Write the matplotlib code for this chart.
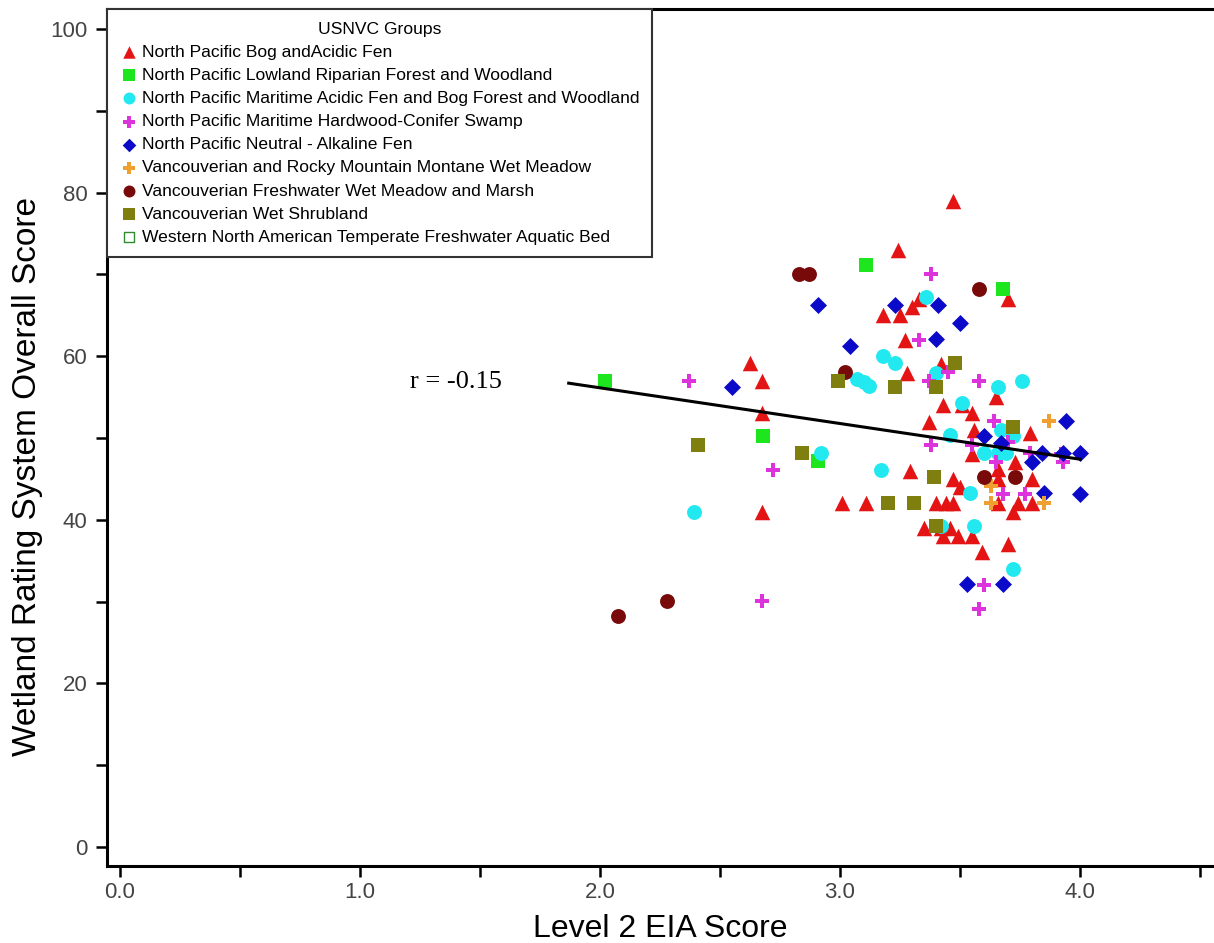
import matplotlib
matplotlib.use("Agg")
from matplotlib import pyplot as plt
from matplotlib.ticker import MultipleLocator

# Level 2 EIA score (x) and wetland rating system overall score (y), by USNVC group
bog_x = [2.625, 2.675, 2.675, 2.675, 3.01, 3.11, 3.24, 3.47, 3.18, 3.25, 3.30, 3.33,
         3.27, 3.28, 3.42, 3.43, 3.51, 3.55, 3.37, 3.56, 3.55, 3.29, 3.47, 3.50,
         3.40, 3.44, 3.47, 3.35, 3.42, 3.46, 3.43, 3.49, 3.55, 3.59, 3.70, 3.79,
         3.73, 3.66, 3.66, 3.80, 3.66, 3.74, 3.80, 3.72, 3.70, 3.65]
bog_y = [59.2, 57, 53, 41, 42, 42, 73, 79, 65, 65, 66, 67,
         62, 58, 59, 54, 54, 53, 52, 51, 48, 46, 45, 44,
         42, 42, 42, 39, 39, 39, 38, 38, 38, 36, 67, 50.6,
         47, 46.2, 45, 45, 42, 42, 42, 41, 37, 55]

riparian_x = [2.02, 2.68, 2.91, 3.11, 3.68]
riparian_y = [57, 50.2, 47.2, 71.1, 68.2]

bogforest_x = [2.39, 2.92, 3.17, 3.18, 3.23, 3.07, 3.10, 3.12, 3.36, 3.40, 3.51, 3.66,
               3.76, 3.46, 3.67, 3.72, 3.60, 3.66, 3.69, 3.54, 3.42, 3.56, 3.72]
bogforest_y = [41, 48.2, 46.1, 60, 59.2, 57.2, 56.9, 56.3, 67.2, 58, 54.3, 56.2,
               57, 50.4, 51, 50.2, 48.1, 48.1, 48.1, 43.3, 39.2, 39.2, 34]

swamp_x = [2.37, 2.72, 2.675, 3.38, 3.33, 3.45, 3.37, 3.58, 3.64, 3.38, 3.55, 3.79,
           3.93, 3.92, 3.70, 3.65, 3.68, 3.77, 3.60, 3.58]
swamp_y = [57, 46.1, 30.1, 70.1, 62, 58.1, 57, 57, 52.1, 49.1, 49.2, 48.2,
           47.1, 48, 49.5, 47.1, 43.1, 43.1, 32, 29.1]

alkaline_x = [2.55, 2.91, 3.04, 3.23, 3.41, 3.50, 3.40, 3.94, 3.60, 3.67, 3.80, 3.84,
              3.93, 4.0, 3.85, 4.0, 3.68, 3.53]
alkaline_y = [56.2, 66.2, 61.2, 66.2, 66.2, 64, 62.1, 52.1, 50.2, 49.4, 47.1, 48.1,
              48.1, 48.1, 43.3, 43.2, 32.1, 32.1]

montane_x = [3.87, 3.63, 3.63, 3.85]
montane_y = [52.1, 44.1, 42.1, 42.1]

marsh_x = [2.075, 2.28, 2.83, 2.87, 3.02, 3.58, 3.60, 3.73]
marsh_y = [28.2, 30.1, 70.1, 70.1, 58.1, 68.2, 45.2, 45.2]

shrub_x = [2.41, 2.84, 2.99, 3.23, 3.48, 3.40, 3.72, 3.39, 3.20, 3.31, 3.40]
shrub_y = [49.2, 48.1, 57, 56.2, 59.2, 56.2, 51.3, 45.2, 42.1, 42.1, 39.2]

aquatic_x = []
aquatic_y = []

# fitted line as drawn on the chart
fit_x = [1.87, 4.0]
fit_y = [56.7, 47.4]
r_text = "r = -0.15"

plt.rcParams["font.family"] = ["Liberation Sans", "DejaVu Sans"]

fig = plt.figure(figsize=(12.14, 9.43), dpi=100)
ax = fig.add_axes([0.088, 0.082, 0.912, 0.908])

groups = [
    (bog_x, bog_y, "North Pacific Bog andAcidic Fen", "^", "#e41414", 125),
    (riparian_x, riparian_y, "North Pacific Lowland Riparian Forest and Woodland", "s", "#1ee61e", 110),
    (bogforest_x, bogforest_y, "North Pacific Maritime Acidic Fen and Bog Forest and Woodland", "o", "#22e8f0", 115),
    (swamp_x, swamp_y, "North Pacific Maritime Hardwood-Conifer Swamp", "P", "#dd33dd", 115),
    (alkaline_x, alkaline_y, "North Pacific Neutral - Alkaline Fen", "D", "#0a0ac8", 75),
    (montane_x, montane_y, "Vancouverian and Rocky Mountain Montane Wet Meadow", "P", "#f0a030", 115),
    (marsh_x, marsh_y, "Vancouverian Freshwater Wet Meadow and Marsh", "o", "#780a0a", 115),
    (shrub_x, shrub_y, "Vancouverian Wet Shrubland", "s", "#7f7f10", 110),
]
for gx, gy, label, marker, color, size in groups:
    ax.scatter(gx, gy, marker=marker, s=size, c=color, linewidths=0, label=label, zorder=3)

ax.scatter(aquatic_x, aquatic_y, marker="s", s=80, facecolors="white", edgecolors="#2e8b2e",
           linewidths=1, label="Western North American Temperate Freshwater Aquatic Bed")

ax.plot(fit_x, fit_y, color="black", linewidth=2.2, zorder=4)
ax.text(1.40, 56.8, r_text, fontsize=19, family=["Liberation Serif", "DejaVu Serif"],
        ha="center", va="center")

ax.set_xlim(-0.054, 4.558)
ax.set_ylim(-2.3, 102.4)
ax.xaxis.set_minor_locator(MultipleLocator(0.5))
ax.yaxis.set_major_locator(MultipleLocator(20))
ax.yaxis.set_minor_locator(MultipleLocator(10))
ax.set_xticks([0, 1, 2, 3, 4])
ax.set_xticklabels(["0.0", "1.0", "2.0", "3.0", "4.0"])
ax.tick_params(axis="both", which="both", direction="out", length=8, width=1.8,
               color="black", labelsize=16, labelcolor="#444444")
ax.tick_params(axis="x", pad=4)
ax.tick_params(axis="y", pad=6)

for side in ["left", "bottom", "top"]:
    ax.spines[side].set_linewidth(2.2)
ax.spines["right"].set_visible(False)

ax.set_xlabel("Level 2 EIA Score", fontsize=23, labelpad=8)
ax.set_ylabel("Wetland Rating System Overall Score", fontsize=24)
ax.yaxis.set_label_coords(-0.058, 0.455)

leg = ax.legend(loc="upper left", bbox_to_anchor=(0, 1), borderaxespad=0, title="USNVC Groups",
                fontsize=12.6, title_fontsize=12.6, markerscale=0.8, handletextpad=0.2,
                labelspacing=0.45, borderpad=0.7, handlelength=1.1, fancybox=False,
                framealpha=1, edgecolor="#333333")
leg.get_frame().set_linewidth(1.5)

plt.savefig("out.png", dpi=100)
